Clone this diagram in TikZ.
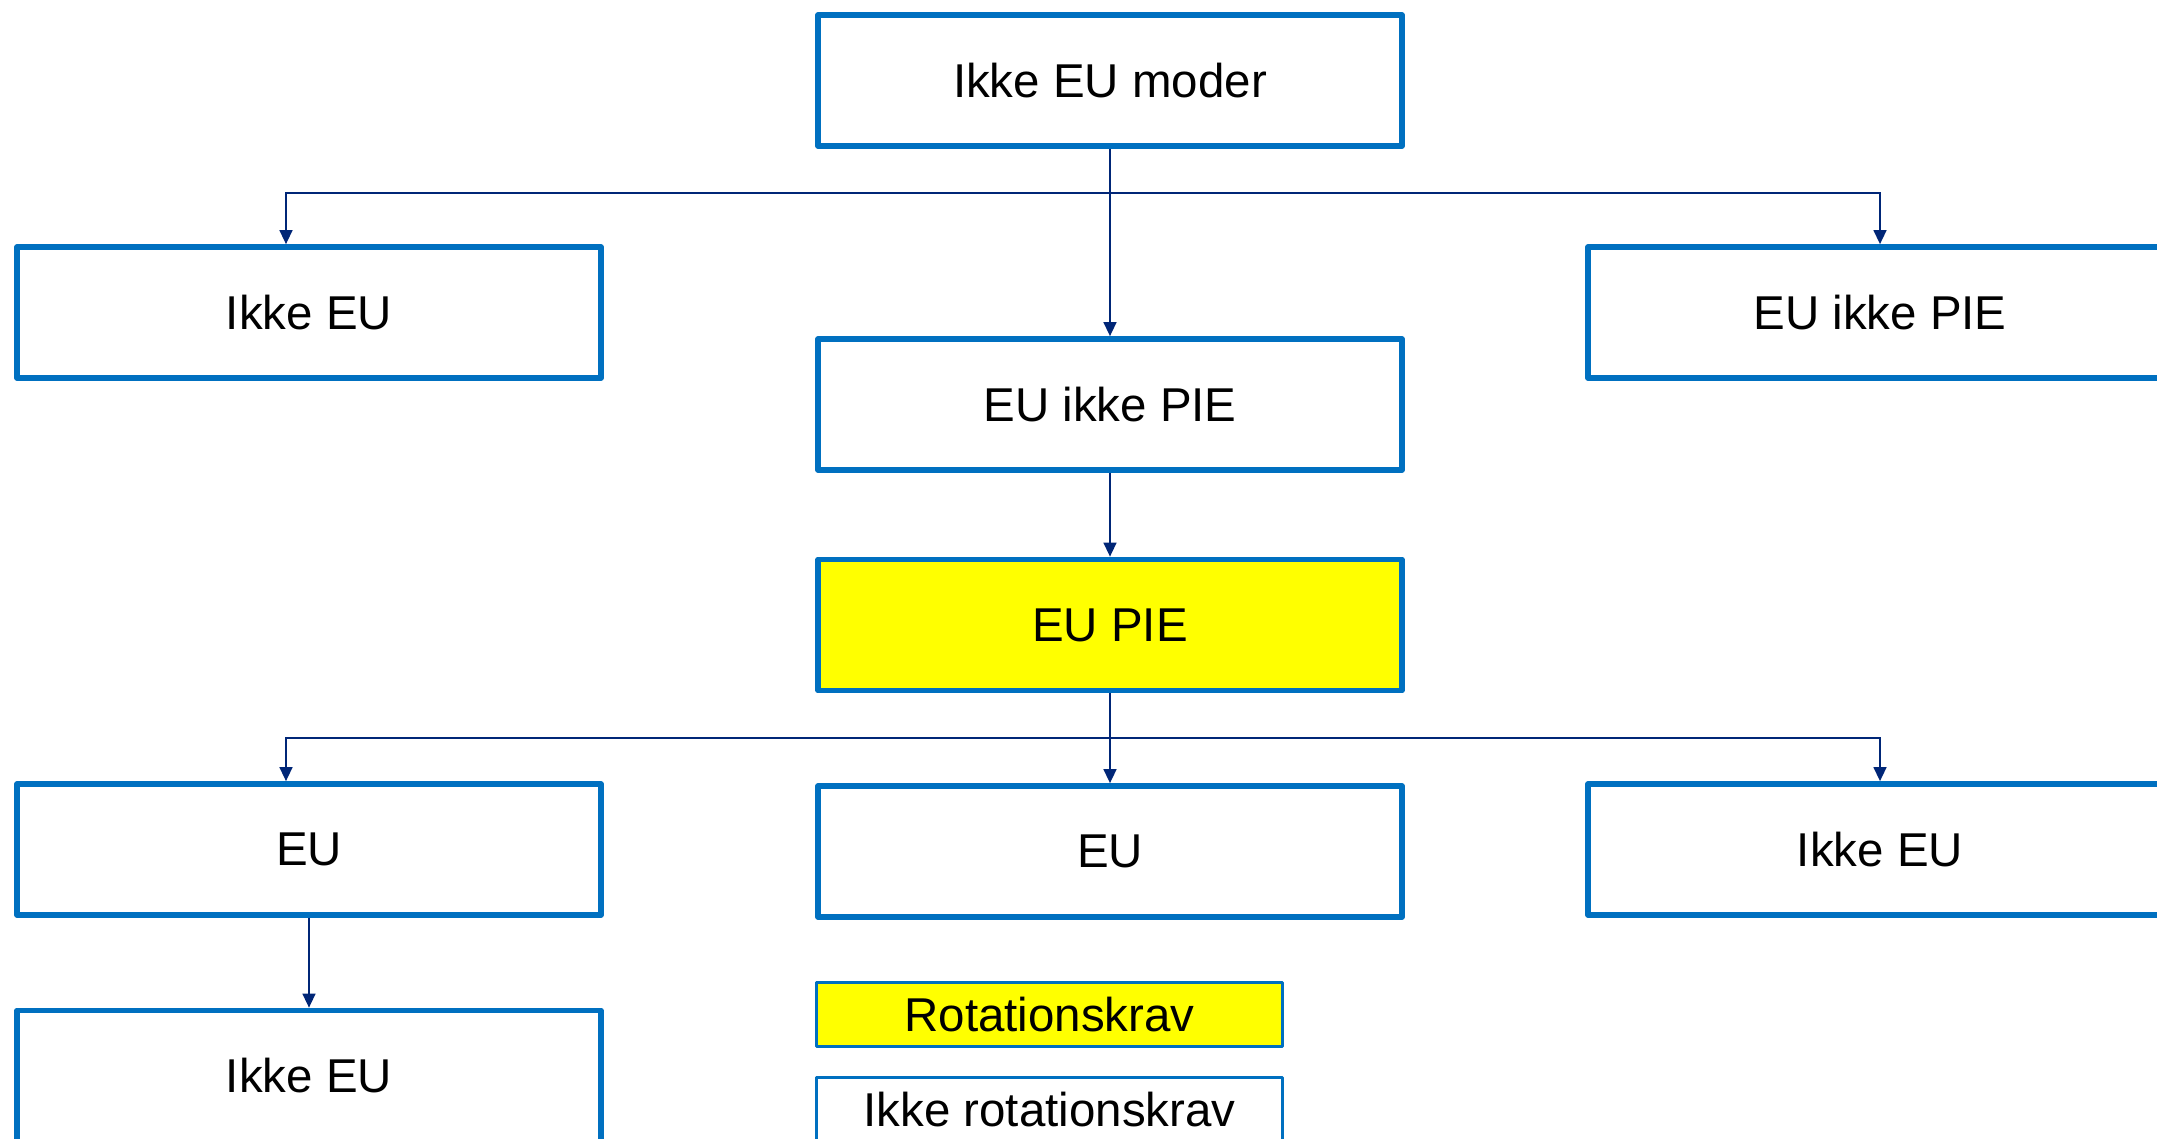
\documentclass[tikz,border=0pt]{standalone}
\usepackage{fontspec}
\setmainfont{Liberation Sans}
\usetikzlibrary{arrows.meta}
\definecolor{boxblue}{RGB}{0,112,192}
\definecolor{linknavy}{RGB}{0,38,119}
\definecolor{hilite}{RGB}{255,255,0}
\begin{document}
\begin{tikzpicture}[x=0.75pt,y=-0.75pt,
  orgbox/.style={draw=boxblue, line width=4.2pt, line join=round, fill=white,
    minimum width=438pt, minimum height=98.25pt, inner sep=0pt,
    font=\fontsize{35.6}{42}\selectfont},
  keybox/.style={draw=boxblue, line width=2.4pt, line join=round, fill=white,
    minimum width=349.5pt, minimum height=48pt, inner sep=0pt,
    font=\fontsize{35.6}{42}\selectfont},
  link/.style={draw=linknavy, line width=1.7pt, -{Triangle[length=10.5pt,width=9.5pt]}}]

\useasboundingbox (0,0) rectangle (2157,1139);
\fill[white] (0,0) rectangle (2157,1139);
\clip (0,0) rectangle (2157,1139);

% group structure
\node[orgbox] (top) at (1110,80.5)  {Ikke EU moder};
\node[orgbox] (l1)  at (309,312.5)  {Ikke EU};
\node[orgbox] (r1)  at (1880,312.5) {EU ikke PIE};
\node[orgbox] (mid) at (1110,404.5) {EU ikke PIE};
\node[orgbox, fill=hilite] (pie) at (1110,625) {EU PIE};
\node[orgbox] (b1)  at (309,849.5)  {EU};
\node[orgbox] (b2)  at (1110,851.5) {EU};
\node[orgbox] (b3)  at (1880,849.5) {Ikke EU};
\node[orgbox] (b4)  at (309,1076)   {Ikke EU};

% legend
\node[keybox, fill=hilite] (k1) at (1049.5,1014.5) {Rotationskrav};
\node[keybox] (k2) at (1049.5,1109.5) {Ikke rotationskrav};

% connectors
\coordinate (j1) at (1110,193);
\coordinate (j2) at (1110,738);
\coordinate (l1in) at ([xshift=-17.25pt]l1.north);
\coordinate (b1in) at ([xshift=-17.25pt]b1.north);

\draw[link] (top) -- (mid);
\draw[link] (j1) -| (l1in);
\draw[link] (j1) -| (r1.north);
\draw[link] (mid) -- (pie);
\draw[link] (pie) -- (b2);
\draw[link] (j2) -| (b1in);
\draw[link] (j2) -| (b3.north);
\draw[link] (b1) -- (b4);
\end{tikzpicture}
\end{document}
